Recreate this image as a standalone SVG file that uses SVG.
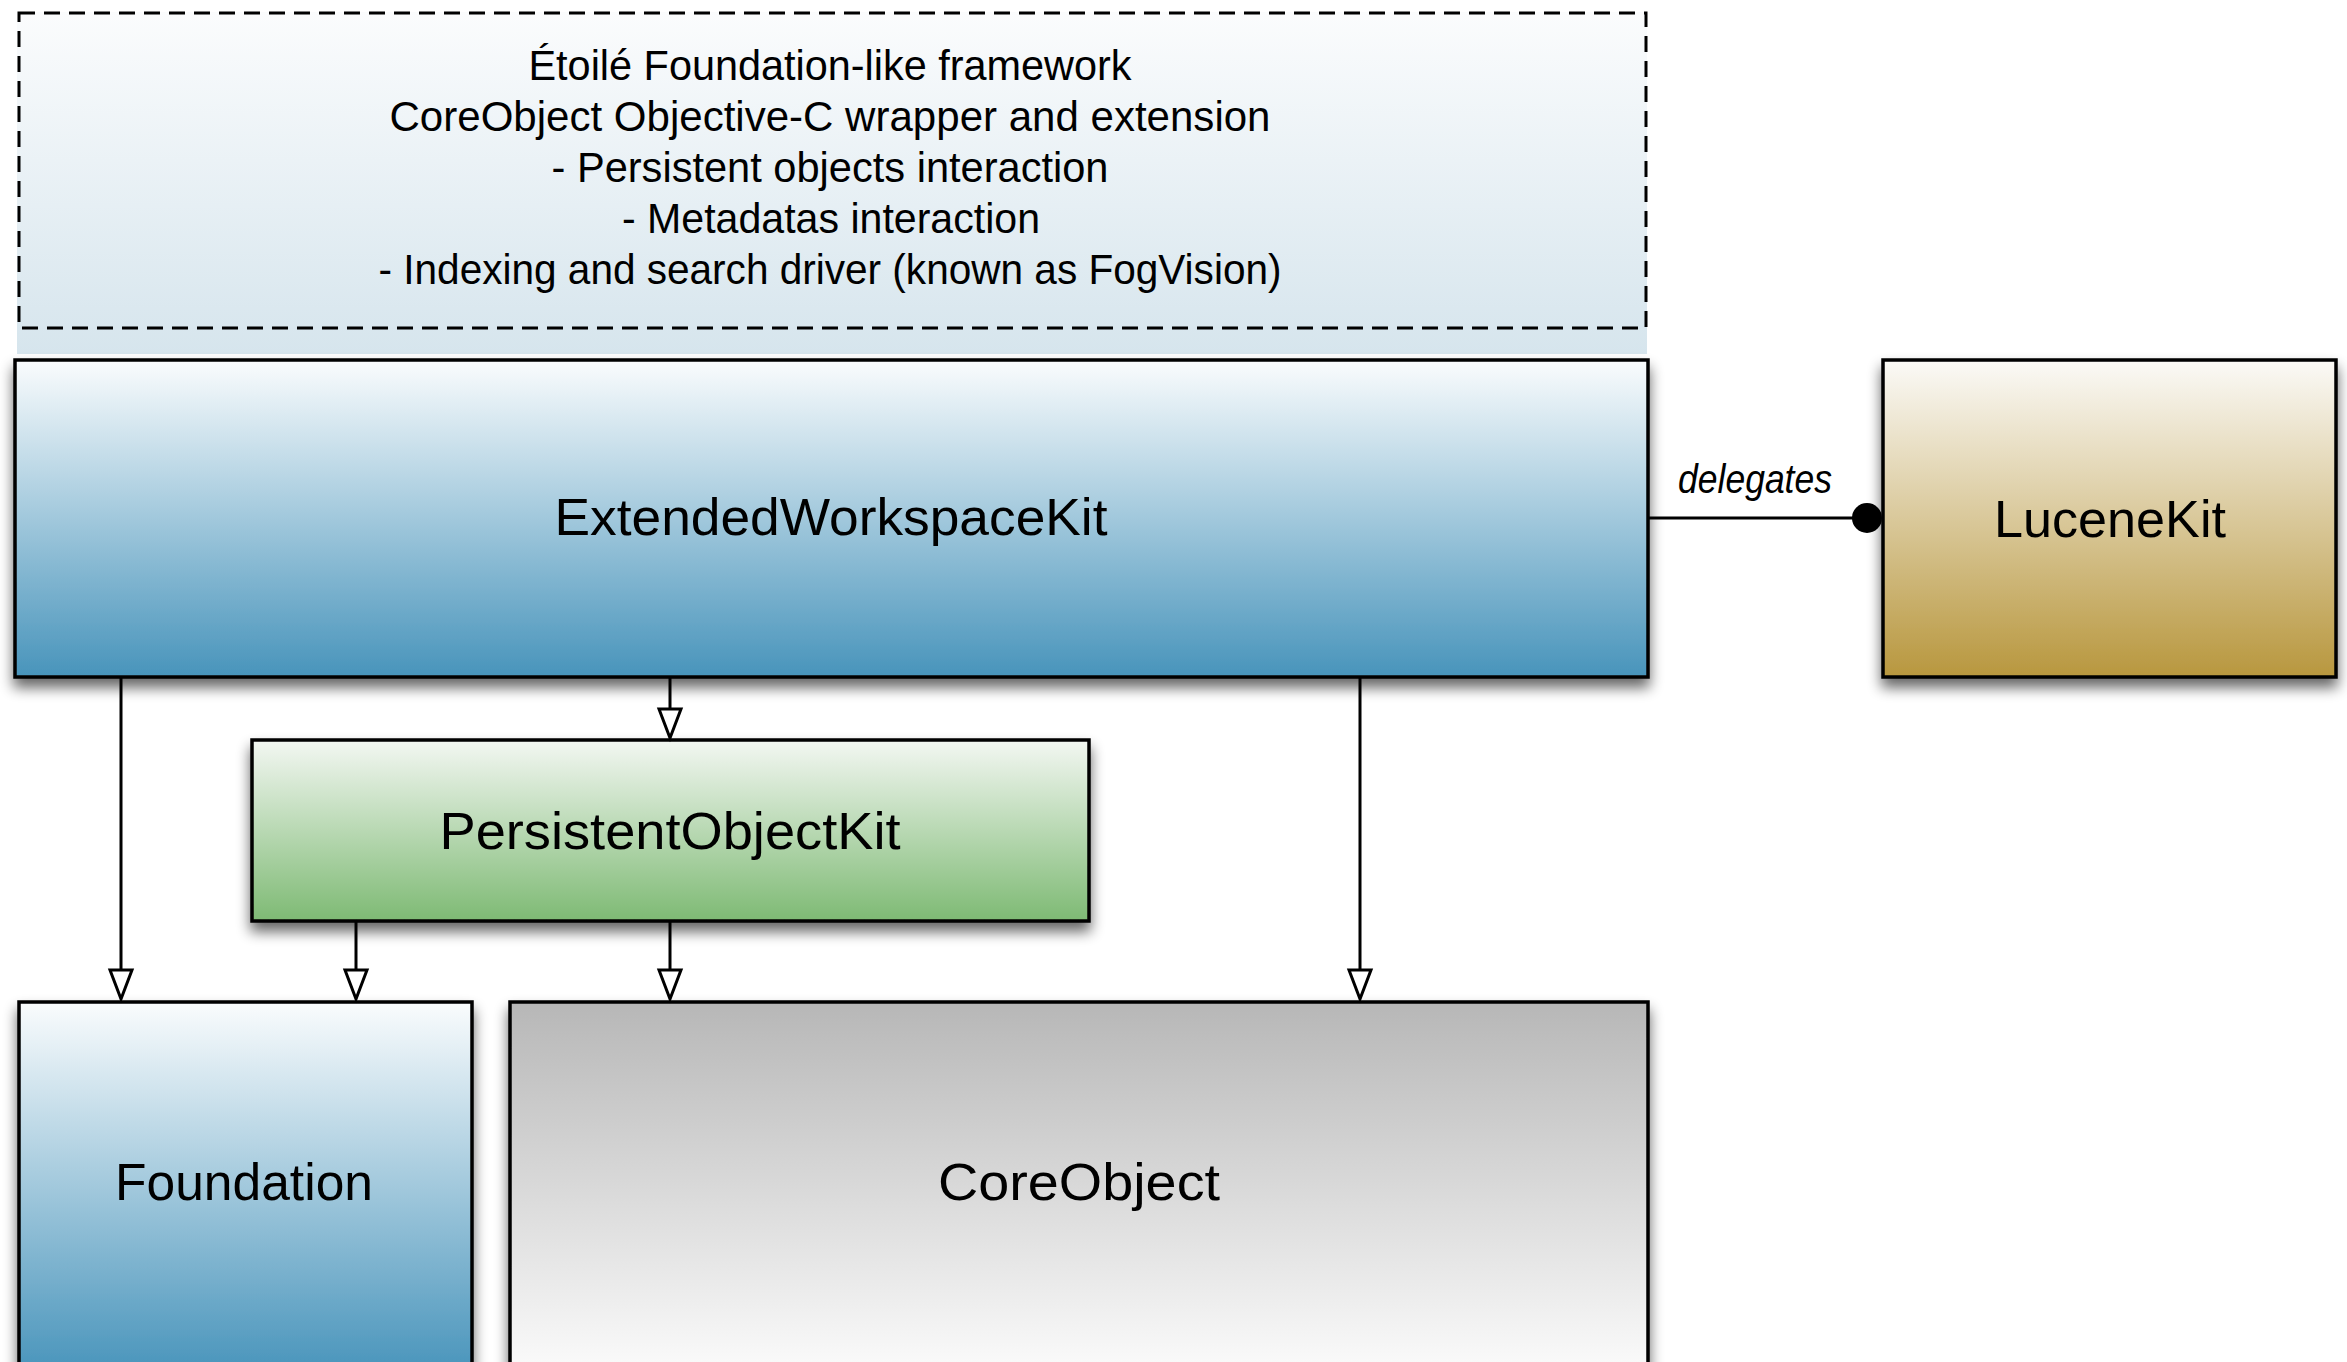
<svg xmlns="http://www.w3.org/2000/svg" width="2347" height="1362" viewBox="0 0 2347 1362">
  <defs>
    <linearGradient id="gBlue" x1="0" y1="0" x2="0" y2="1">
      <stop offset="0" stop-color="#fafcfd"/>
      <stop offset="1" stop-color="#4894bb"/>
    </linearGradient>
    <linearGradient id="gGreen" x1="0" y1="0" x2="0" y2="1">
      <stop offset="0" stop-color="#f3f7f2"/>
      <stop offset="1" stop-color="#7eba74"/>
    </linearGradient>
    <linearGradient id="gGold" x1="0" y1="0" x2="0" y2="1">
      <stop offset="0" stop-color="#fbfaf7"/>
      <stop offset="1" stop-color="#b8973e"/>
    </linearGradient>
    <linearGradient id="gGray" x1="0" y1="0" x2="0" y2="1">
      <stop offset="0" stop-color="#b7b7b7"/>
      <stop offset="1" stop-color="#fbfbfb"/>
    </linearGradient>
    <linearGradient id="gTop" x1="0" y1="0" x2="0" y2="1">
      <stop offset="0" stop-color="#fbfcfd"/>
      <stop offset="1" stop-color="#d6e5ed"/>
    </linearGradient>
    <filter id="shadow" x="-10%" y="-20%" width="120%" height="150%">
      <feGaussianBlur in="SourceAlpha" stdDeviation="7"/>
      <feOffset dx="0" dy="9" result="b"/>
      <feComponentTransfer>
        <feFuncA type="linear" slope="0.6"/>
      </feComponentTransfer>
      <feMerge>
        <feMergeNode/>
        <feMergeNode in="SourceGraphic"/>
      </feMerge>
    </filter>
    <style>
      .box { stroke: #000000; stroke-width: 3.5; }
      .lbl { font-family: "Liberation Sans", Arial, sans-serif; font-size: 52px; fill: #000000; text-anchor: middle; }
      .note { font-family: "Liberation Sans", Arial, sans-serif; font-size: 42px; fill: #000000; text-anchor: middle; }
      .edge { fill: none; stroke: #000000; stroke-width: 3; }
      .head { fill: #ffffff; stroke: #000000; stroke-width: 3; stroke-linejoin: miter; }
      .elbl { font-family: "Liberation Sans", Arial, sans-serif; font-size: 41px; font-style: italic; fill: #000000; }
    </style>
  </defs>

  <rect x="0" y="0" width="2347" height="1362" fill="#ffffff"/>

  <g id="note">
    <rect x="17" y="12" width="1630" height="342" fill="url(#gTop)"/>
    <rect x="19" y="13" width="1627" height="315" fill="none" stroke="#000000" stroke-width="3" stroke-dasharray="16 9"/>
    <text class="note" x="830" y="80" textLength="603" lengthAdjust="spacingAndGlyphs">Étoilé Foundation-like framework</text>
    <text class="note" x="830" y="131" textLength="881" lengthAdjust="spacingAndGlyphs">CoreObject Objective-C wrapper and extension</text>
    <text class="note" x="830" y="182" textLength="557" lengthAdjust="spacingAndGlyphs">- Persistent objects interaction</text>
    <text class="note" x="831" y="233" textLength="418" lengthAdjust="spacingAndGlyphs">- Metadatas interaction</text>
    <text class="note" x="830" y="284" textLength="903" lengthAdjust="spacingAndGlyphs">- Indexing and search driver (known as FogVision)</text>
  </g>

  <g id="ExtendedWorkspaceKit">
    <rect class="box" x="15" y="360" width="1633" height="317" fill="url(#gBlue)" filter="url(#shadow)"/>
    <text class="lbl" x="831" y="535" textLength="553" lengthAdjust="spacingAndGlyphs">ExtendedWorkspaceKit</text>
  </g>

  <g id="LuceneKit">
    <rect class="box" x="1883" y="360" width="453" height="317" fill="url(#gGold)" filter="url(#shadow)"/>
    <text class="lbl" x="2110" y="537" textLength="232" lengthAdjust="spacingAndGlyphs">LuceneKit</text>
  </g>

  <g id="PersistentObjectKit">
    <rect class="box" x="252" y="740" width="837" height="181" fill="url(#gGreen)" filter="url(#shadow)"/>
    <text class="lbl" x="670" y="849" textLength="461" lengthAdjust="spacingAndGlyphs">PersistentObjectKit</text>
  </g>

  <g id="Foundation">
    <rect class="box" x="19" y="1002" width="453" height="372" fill="url(#gBlue)" filter="url(#shadow)"/>
    <text class="lbl" x="244" y="1200" textLength="258" lengthAdjust="spacingAndGlyphs">Foundation</text>
  </g>

  <g id="CoreObject">
    <rect class="box" x="510" y="1002" width="1138" height="372" fill="url(#gGray)" filter="url(#shadow)"/>
    <text class="lbl" x="1079" y="1200" textLength="282" lengthAdjust="spacingAndGlyphs">CoreObject</text>
  </g>

  <g id="connectors">
    <g id="ewk-foundation">
      <line class="edge" x1="121" y1="678" x2="121" y2="970"/>
      <path class="head" d="M121,999 L110,970 L132,970 Z"/>
    </g>
    <g id="ewk-pok">
      <line class="edge" x1="670" y1="678" x2="670" y2="709"/>
      <path class="head" d="M670,738 L659,709 L681,709 Z"/>
    </g>
    <g id="ewk-coreobject">
      <line class="edge" x1="1360" y1="678" x2="1360" y2="970"/>
      <path class="head" d="M1360,999 L1349,970 L1371,970 Z"/>
    </g>
    <g id="pok-foundation">
      <line class="edge" x1="356" y1="922" x2="356" y2="970"/>
      <path class="head" d="M356,999 L345,970 L367,970 Z"/>
    </g>
    <g id="pok-coreobject">
      <line class="edge" x1="670" y1="922" x2="670" y2="970"/>
      <path class="head" d="M670,999 L659,970 L681,970 Z"/>
    </g>
    <g id="ewk-lucenekit">
      <line class="edge" x1="1649" y1="518" x2="1860" y2="518"/>
      <circle cx="1867" cy="518" r="15" fill="#000000"/>
      <text class="elbl" x="1678" y="493" textLength="154" lengthAdjust="spacingAndGlyphs">delegates</text>
    </g>
  </g>
</svg>
